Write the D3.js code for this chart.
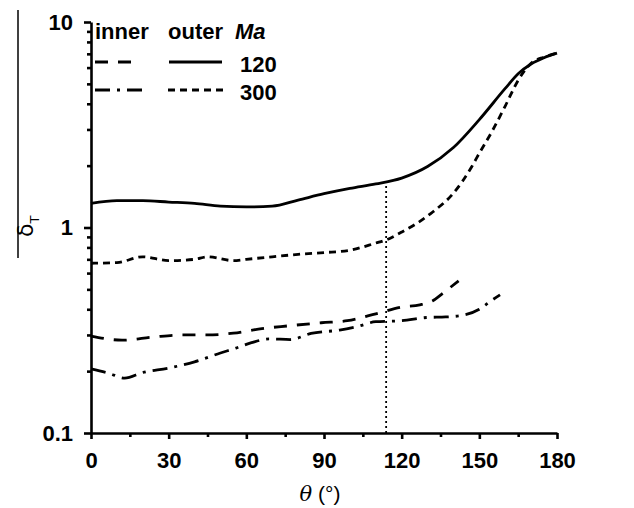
<!DOCTYPE html>
<html>
<head>
<meta charset="utf-8">
<script src="https://cdn.jsdelivr.net/npm/d3@7/dist/d3.min.js"></script>
<style>
  body { margin: 0; background: #fff; }
  svg { display: block; }
</style>
</head>
<body>
<div id="chart"></div>
<script>
// Data
const xTicks = [0, 30, 60, 90, 120, 150, 180];
const xMinorTicks = [15, 45, 75, 105, 135, 165];
const yTicks = [0.1, 1, 10];
const yTickLabels = ['0.1', '1', '10'];
const yMinorTicks = [0.2, 0.3, 0.4, 0.5, 0.6, 0.7, 0.8, 0.9, 2, 3, 4, 5, 6, 7, 8, 9];
const markerTheta = 114;

// outer, Ma = 120 (solid)
const outer120Theta = [0, 10, 20, 30, 40, 50, 60, 70, 80, 90, 100, 110, 120, 130, 140, 150, 160, 165, 170, 175, 180];
const outer120Val = [1.31, 1.35, 1.35, 1.33, 1.31, 1.27, 1.26, 1.27, 1.36, 1.46, 1.55, 1.63, 1.74, 1.98, 2.45, 3.35, 4.75, 5.6, 6.25, 6.7, 7.05];

// outer, Ma = 300 (short dash)
const outer300Theta = [0, 10, 20, 30, 40, 45, 55, 60, 70, 80, 90, 100, 110, 114, 120, 126, 132, 140, 147, 150, 155, 160, 165, 170, 175, 180];
const outer300Val = [0.67, 0.675, 0.72, 0.69, 0.70, 0.72, 0.69, 0.70, 0.72, 0.74, 0.755, 0.775, 0.84, 0.87, 0.95, 1.05, 1.19, 1.47, 1.97, 2.3, 2.95, 3.9, 5.2, 6.3, 6.75, 7.05];

// inner, Ma = 120 (dash)
const inner120Theta = [0, 12, 24, 35, 45, 55, 66, 76, 89, 99, 110, 120, 127, 132, 136, 142];
const inner120Val = [0.296, 0.283, 0.293, 0.30, 0.30, 0.306, 0.322, 0.332, 0.344, 0.352, 0.38, 0.41, 0.42, 0.44, 0.48, 0.55];

// inner, Ma = 300 (dash-dot)
const inner300Theta = [0, 7, 13, 20, 30, 40, 50, 56, 62, 69, 77, 85, 96, 103, 110, 120, 130, 137, 144, 150, 154, 158];
const inner300Val = [0.205, 0.195, 0.185, 0.197, 0.207, 0.222, 0.245, 0.259, 0.275, 0.287, 0.285, 0.305, 0.317, 0.33, 0.348, 0.352, 0.365, 0.367, 0.375, 0.40, 0.435, 0.47];

const legendHeaders = ['inner', 'outer', 'Ma'];
const legendMa = ['120', '300'];

// Configuration
const width = 634;
const height = 508;
const font = "'Liberation Sans', Arial, sans-serif";

const xScale = d3.scaleLinear().domain([0, 180]).range([91, 557]);
const yScale = d3.scaleLog().domain([0.1, 10]).range([433, 22]);

const svg = d3.select('#chart')
  .append('svg')
  .attr('width', width)
  .attr('height', height);

// Curves
const line = d3.line()
  .x(d => xScale(d[0]))
  .y(d => yScale(d[1]))
  .curve(d3.curveMonotoneX);

const zip = (a, b) => a.map((t, i) => [t, b[i]]);

const series = [
  { data: zip(outer120Theta, outer120Val), dash: null },
  { data: zip(outer300Theta, outer300Val), dash: '7,5' },
  { data: zip(inner120Theta, inner120Val), dash: '13,10' },
  { data: zip(inner300Theta, inner300Val), dash: '15,7,3,7' }
];

svg.selectAll('.curve')
  .data(series)
  .enter()
  .append('path')
  .attr('class', 'curve')
  .attr('d', d => line(d.data))
  .attr('fill', 'none')
  .attr('stroke', '#000')
  .attr('stroke-width', 2.8)
  .attr('stroke-dasharray', d => d.dash);

// Vertical dotted marker up to the solid curve
const markerTop = d3.scaleLinear().domain(outer120Theta).range(outer120Val)(markerTheta);
svg.append('line')
  .attr('x1', xScale(markerTheta))
  .attr('x2', xScale(markerTheta))
  .attr('y1', yScale(0.1))
  .attr('y2', yScale(markerTop))
  .attr('stroke', '#000')
  .attr('stroke-width', 1.8)
  .attr('stroke-dasharray', '2,3');

// Axes
svg.append('g')
  .attr('transform', `translate(0,${yScale(0.1)})`)
  .call(d3.axisBottom(xScale).tickValues(xTicks).tickSize(6).tickSizeOuter(0).tickPadding(13));

svg.append('g')
  .attr('transform', `translate(0,${yScale(0.1)})`)
  .call(d3.axisBottom(xScale).tickValues(xMinorTicks).tickSize(4).tickSizeOuter(0).tickFormat(''))
  .select('.domain').remove();

svg.append('g')
  .attr('transform', `translate(${xScale(0)},0)`)
  .call(d3.axisLeft(yScale).tickValues(yTicks).tickSize(7).tickSizeOuter(0).tickPadding(11)
    .tickFormat((d, i) => yTickLabels[i]));

svg.append('g')
  .attr('transform', `translate(${xScale(0)},0)`)
  .call(d3.axisLeft(yScale).tickValues(yMinorTicks).tickSize(4).tickSizeOuter(0).tickFormat(''))
  .select('.domain').remove();

svg.selectAll('.domain, .tick line')
  .attr('stroke', '#000')
  .attr('stroke-width', 2.6);

svg.selectAll('.tick text')
  .attr('fill', '#000')
  .style('font-family', font)
  .style('font-weight', 'bold')
  .style('font-size', '22px');

// Axis titles
const xTitle = svg.append('text')
  .attr('x', 320)
  .attr('y', 501)
  .attr('text-anchor', 'middle')
  .style('font-family', font)
  .style('font-size', '21px');
xTitle.append('tspan').style('font-style', 'italic').style('font-family', "'DejaVu Serif', serif").text('θ');
xTitle.append('tspan').text(' (°)');

const yTitle = svg.append('text')
  .attr('transform', 'translate(33,237) rotate(-90)')
  .style('font-family', "'DejaVu Sans', sans-serif")
  .style('font-size', '22px');
yTitle.append('tspan').text('δ');
yTitle.append('tspan').attr('dy', 6).style('font-size', '13px').text('T');

svg.append('line')
  .attr('x1', 18).attr('x2', 18)
  .attr('y1', 10).attr('y2', 258)
  .attr('stroke', '#000')
  .attr('stroke-width', 1.5);

// Legend
const legend = svg.append('g')
  .style('font-family', font)
  .style('font-weight', 'bold')
  .style('font-size', '22px');

const headerX = [95, 168, 235];
legend.selectAll('.hdr')
  .data(legendHeaders)
  .enter()
  .append('text')
  .attr('x', (d, i) => headerX[i])
  .attr('y', 39)
  .style('font-style', (d, i) => i === 2 ? 'italic' : 'normal')
  .text(d => d);

const rowY = [64, 92];
legend.selectAll('.ma')
  .data(legendMa)
  .enter()
  .append('text')
  .attr('x', 240)
  .attr('y', (d, i) => rowY[i] + 8)
  .text(d => d);

const legendSamples = [
  { x1: 95, x2: 136, row: 0, dash: series[2].dash },
  { x1: 169, x2: 222, row: 0, dash: series[0].dash },
  { x1: 95, x2: 146, row: 1, dash: series[3].dash },
  { x1: 168, x2: 224, row: 1, dash: series[1].dash }
];
legend.selectAll('.sample')
  .data(legendSamples)
  .enter()
  .append('line')
  .attr('x1', d => d.x1)
  .attr('x2', d => d.x2)
  .attr('y1', d => rowY[d.row] - 2)
  .attr('y2', d => rowY[d.row] - 2)
  .attr('stroke', '#000')
  .attr('stroke-width', 2.8)
  .attr('stroke-dasharray', d => d.dash);
</script>
</body>
</html>
